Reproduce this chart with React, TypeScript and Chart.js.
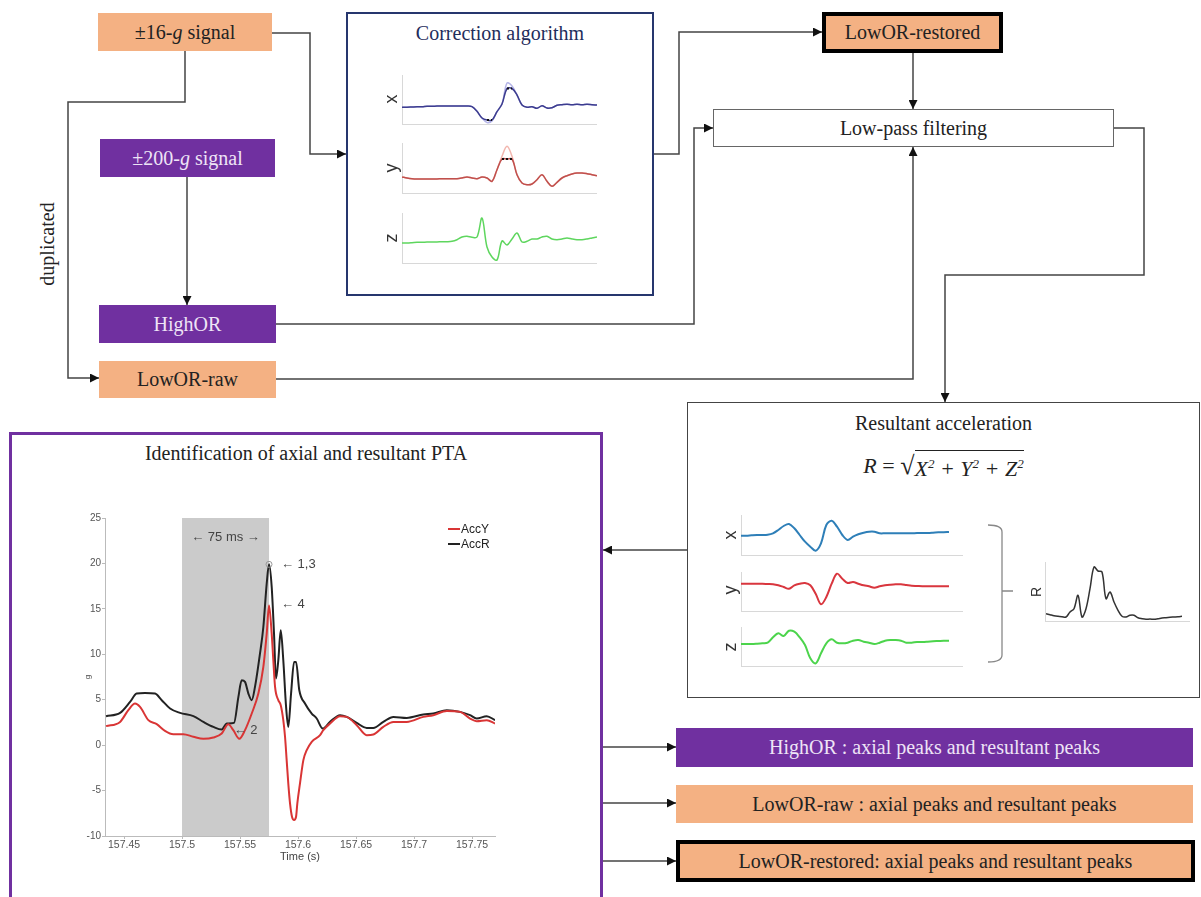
import React, { useEffect, useRef } from 'react';
import { Chart, registerables } from 'chart.js';
Chart.register(...registerables);

const SERIF = "'Liberation Serif', 'Times New Roman', serif";
const SANS = "'Liberation Sans', Arial, sans-serif";
const PEACH = '#F4B183';
const PURPLE = '#7030A0';

// ---------- main chart data (Identification of axial and resultant PTA) ----------
const accYTime = [157.4345, 157.4466, 157.4537, 157.4595, 157.4638, 157.4710, 157.4782, 157.4853, 157.4925, 157.5011, 157.5098, 157.5184, 157.5270, 157.5342, 157.5399, 157.5442, 157.5494, 157.5543, 157.5601, 157.5658, 157.5701, 157.5730, 157.5750, 157.5773, 157.5787, 157.5802, 157.5830, 157.5851, 157.5873, 157.5888, 157.5902, 157.5916, 157.5931, 157.5948, 157.5966, 157.5983, 157.5994, 157.6017, 157.6046, 157.6075, 157.6118, 157.6190, 157.6218, 157.6276, 157.6362, 157.6420, 157.6506, 157.6592, 157.6649, 157.6735, 157.6822, 157.6937, 157.7080, 157.7166, 157.7282, 157.7397, 157.7483, 157.7540, 157.7627, 157.7698];
const accY = [2.09, 2.56, 3.85, 4.58, 4.21, 2.75, 2.31, 1.58, 1.21, 1.21, 0.92, 0.70, 0.84, 1.28, 2.31, 1.65, 0.70, 1.65, 3.48, 5.68, 8.61, 12.27, 15.38, 12.27, 9.34, 6.41, 4.95, 4.40, 2.75, 0.92, -1.65, -4.21, -6.41, -7.88, -8.24, -7.88, -6.41, -4.21, -1.65, -0.55, 0.37, 1.10, 1.65, 2.38, 3.19, 3.11, 2.20, 1.10, 1.17, 2.01, 2.56, 2.56, 3.11, 3.30, 3.77, 3.66, 2.93, 2.64, 2.75, 2.38];
const accRTime = [157.4345, 157.4466, 157.4552, 157.4609, 157.4681, 157.4767, 157.4825, 157.4897, 157.4983, 157.5098, 157.5184, 157.5270, 157.5342, 157.5385, 157.5448, 157.5486, 157.5514, 157.5543, 157.5572, 157.5601, 157.5629, 157.5672, 157.5701, 157.5730, 157.5750, 157.5773, 157.5793, 157.5810, 157.5830, 157.5851, 157.5873, 157.5897, 157.5916, 157.5940, 157.5966, 157.5983, 157.6011, 157.6060, 157.6118, 157.6161, 157.6213, 157.6276, 157.6362, 157.6420, 157.6506, 157.6592, 157.6649, 157.6735, 157.6822, 157.6937, 157.7080, 157.7166, 157.7282, 157.7397, 157.7483, 157.7540, 157.7627, 157.7698];
const accR = [3.19, 3.55, 4.76, 5.68, 5.75, 5.68, 4.95, 4.03, 3.55, 3.19, 2.56, 2.01, 1.72, 2.38, 2.45, 5.31, 7.14, 6.96, 5.68, 4.95, 6.41, 10.07, 13.0, 17.77, 19.9, 17.4, 12.27, 7.33, 9.34, 12.64, 9.34, 4.21, 2.01, 5.68, 9.16, 9.16, 6.04, 4.58, 3.48, 2.93, 1.83, 2.56, 3.30, 3.11, 2.45, 1.90, 1.90, 2.56, 3.11, 3.00, 3.37, 3.48, 3.85, 3.66, 3.30, 2.93, 3.19, 2.75];
const seriesLabels = ['AccY', 'AccR'];
const seriesColors = ['#d93535', '#222222'];
const xRange = [157.4336, 157.7698];
const xTicks = [157.45, 157.5, 157.55, 157.6, 157.65, 157.7, 157.75];
const xTickLabels = ['157.45', '157.5', '157.55', '157.6', '157.65', '157.7', '157.75'];
const yTicks = [-10, -5, 0, 5, 10, 15, 20, 25];
const bandRange = [157.5, 157.575];
const peakPoint = [157.575, 19.9];
const annoLabels = ['\u2190 75 ms \u2192', '\u2190 1,3', '\u2190 4', '\u2190 2'];
const annoTime = [157.5375, 157.5853, 157.5853, 157.5445];
const annoValue = [22.9, 19.9, 15.5, 1.6];
const annoAlign = ['center', 'left', 'left', 'left'];

// ---------- sparkline data (correction algorithm) ----------
const corrXRestored = [16.7, 16.7, 17, 17.3, 17.3, 17.7, 17.7, 18, 18, 18, 18, 18, 18, 18, 17.3, 12.7, 6, 1.5, 3, 12.3, 20, 41, 38, 29, 19, 16.7, 17.3, 15.7, 18.3, 16, 16.3, 18.7, 19.3, 19.7, 19.3, 19.7, 19.3, 19.7, 19.3, 19];
const corrXRaw = [16.7, 16.7, 17, 17.3, 17.3, 17.7, 17.7, 18, 18, 18, 18, 18, 18, 18, 17.3, 12.7, 6, 4, 4, 12.3, 20, 35.5, 35.5, 29, 19, 16.7, 17.3, 15.7, 18.3, 16, 16.3, 18.7, 19.3, 19.7, 19.3, 19.7, 19.3, 19.7, 19.3, 19];
const corrXClip = [null, null, null, null, null, null, null, null, null, null, null, null, null, null, null, null, null, 4, 4, null, null, 35.5, 35.5, null, null, null, null, null, null, null, null, null, null, null, null, null, null, null, null, null];
const corrYRestored = [16, 15, 14.3, 14, 14, 14, 14, 14, 14.3, 14.3, 14.3, 14.3, 15, 16, 15, 14.3, 16, 15, 11.7, 23.3, 36.7, 46.7, 36.7, 18.3, 10, 8.3, 9, 13.3, 18.3, 11.7, 6.7, 10.7, 15, 17.3, 19, 20, 20, 19.3, 18.3, 17.3];
const corrYRaw = [16, 15, 14.3, 14, 14, 14, 14, 14, 14.3, 14.3, 14.3, 14.3, 15, 16, 15, 14.3, 16, 15, 11.7, 23.3, 34, 34, 34, 18.3, 10, 8.3, 9, 13.3, 18.3, 11.7, 6.7, 10.7, 15, 17.3, 19, 20, 20, 19.3, 18.3, 17.3];
const corrYClip = [null, null, null, null, null, null, null, null, null, null, null, null, null, null, null, null, null, null, null, null, 34, 34, 34, null, null, null, null, null, null, null, null, null, null, null, null, null, null, null, null, null];
const corrZ = [20, 20, 20.3, 20.7, 20.7, 21, 21, 21, 21.3, 21.3, 21.7, 23.3, 26, 26.7, 25.7, 26, 45, 16, 6, 3, 22, 18, 24, 30, 21, 21.7, 24, 24, 26, 26.7, 24, 23.3, 24, 25, 24, 23.3, 23.3, 24, 25, 26];

// ---------- sparkline data (resultant acceleration) ----------
const resX = [19.3, 19.3, 19.7, 20, 20, 20.3, 21.7, 25, 29, 31, 26.7, 20, 13.3, 8.3, 4.3, 11.7, 30, 34.3, 28.3, 20, 15, 18.3, 20.7, 22.3, 23.3, 23.3, 21.7, 21.7, 21.7, 21.7, 21.7, 21.7, 21.7, 22, 22, 22, 22.3, 22.7, 22.7, 23];
const resY = [27.3, 27.3, 27.3, 27.3, 27.3, 27, 26.7, 25.7, 24, 22.3, 25.7, 27.3, 28, 25.7, 17.3, 6.7, 14, 27.3, 37.3, 32.3, 28, 29, 27.3, 25.7, 24.7, 23.3, 24.7, 25.7, 26.3, 26.7, 26.7, 26, 25.3, 25, 24.7, 24.7, 24.7, 24.7, 24.7, 24.7];
const resZ = [22, 22, 22, 22.3, 22.7, 23.3, 28.7, 32.7, 30, 35.3, 34.3, 28.7, 21, 7.7, 2.7, 12.7, 22.7, 26.7, 23.3, 22.7, 23.3, 25.3, 26, 24.3, 23.3, 22, 23.3, 25.3, 26, 26, 25.3, 23.3, 23.3, 24, 24, 24.3, 24.7, 25, 25.3, 25.3];
const resR = [7.3, 6.3, 5.3, 4.7, 4.3, 4, 9, 12.3, 25.7, 4, 12.3, 32.3, 54, 50, 49, 22.3, 29, 19, 10.7, 4.7, 4, 5.7, 5.7, 3.3, 2.3, 1.7, 2, 1.7, 2.3, 3, 3.3, 3.7, 4, 4.3, 4.7];

type Series = { data: (number | null)[]; color: string; width?: number; dash?: number[] };

function MiniLine(props: { left: number; top: number; width: number; height: number; yMax: number; series: Series[] }) {
  const ref = useRef<HTMLCanvasElement | null>(null);
  useEffect(() => {
    const labels = props.series[0].data.map((_, i) => i);
    const chart = new Chart(ref.current as HTMLCanvasElement, {
      type: 'line',
      data: {
        labels,
        datasets: props.series.map((s) => ({
          data: s.data,
          borderColor: s.color,
          borderWidth: s.width ?? 1.5,
          borderDash: s.dash ?? [],
          pointRadius: 0,
          tension: 0.35,
          fill: false,
          spanGaps: false,
        })),
      },
      options: {
        animation: false,
        responsive: false,
        events: [],
        layout: { padding: 0 },
        clip: false as any,
        plugins: { legend: { display: false }, tooltip: { enabled: false } },
        scales: {
          x: { display: false, offset: false },
          y: { display: false, min: 0, max: props.yMax },
        },
      },
    });
    return () => chart.destroy();
  }, []);
  return (
    <canvas
      ref={ref}
      width={props.width}
      height={props.height}
      style={{ position: 'absolute', left: props.left, top: props.top, width: props.width, height: props.height }}
    />
  );
}

const decoPlugin = {
  id: 'deco',
  beforeDatasetsDraw(chart: any) {
    const { ctx, chartArea, scales } = chart;
    const x0 = scales.x.getPixelForValue(bandRange[0]);
    const x1 = scales.x.getPixelForValue(bandRange[1]);
    ctx.save();
    ctx.fillStyle = '#cbcbcb';
    ctx.fillRect(x0, chartArea.top, x1 - x0, chartArea.bottom - chartArea.top);
    ctx.restore();
  },
  afterDatasetsDraw(chart: any) {
    const { ctx, chartArea, scales } = chart;
    ctx.save();
    // peak marker
    ctx.strokeStyle = '#999';
    ctx.lineWidth = 1;
    ctx.beginPath();
    ctx.arc(scales.x.getPixelForValue(peakPoint[0]), scales.y.getPixelForValue(peakPoint[1]), 3, 0, Math.PI * 2);
    ctx.stroke();
    // annotations
    ctx.fillStyle = '#444';
    ctx.font = `13px ${SANS}`;
    ctx.textBaseline = 'middle';
    annoLabels.forEach((txt, i) => {
      ctx.textAlign = annoAlign[i];
      ctx.fillText(txt, scales.x.getPixelForValue(annoTime[i]), scales.y.getPixelForValue(annoValue[i]));
    });
    // legend
    ctx.font = `12px ${SANS}`;
    ctx.textAlign = 'left';
    chart.data.datasets.forEach((ds: any, i: number) => {
      const yy = chartArea.top + 11 + i * 15;
      ctx.strokeStyle = ds.borderColor;
      ctx.lineWidth = 2;
      ctx.beginPath();
      ctx.moveTo(chartArea.right - 47, yy);
      ctx.lineTo(chartArea.right - 35, yy);
      ctx.stroke();
      ctx.fillStyle = '#222';
      ctx.fillText(ds.label, chartArea.right - 34, yy + 1);
    });
    // axis titles
    ctx.fillStyle = '#444';
    ctx.font = `11px ${SANS}`;
    ctx.textAlign = 'center';
    ctx.fillText('Time (s)', (chartArea.left + chartArea.right) / 2, chartArea.bottom + 21);
    ctx.translate(chartArea.left - 17, scales.y.getPixelForValue(7.5));
    ctx.rotate(-Math.PI / 2);
    ctx.font = `8px ${SANS}`;
    ctx.fillText('g', 0, 0);
    ctx.restore();
  },
};

function MainChart() {
  const ref = useRef<HTMLCanvasElement | null>(null);
  useEffect(() => {
    const chart = new Chart(ref.current as HTMLCanvasElement, {
      type: 'line',
      data: {
        datasets: [
          {
            label: seriesLabels[0],
            data: accYTime.map((t, i) => ({ x: t, y: accY[i] })),
            borderColor: seriesColors[0],
            borderWidth: 2,
            pointRadius: 0,
            cubicInterpolationMode: 'monotone',
          },
          {
            label: seriesLabels[1],
            data: accRTime.map((t, i) => ({ x: t, y: accR[i] })),
            borderColor: seriesColors[1],
            borderWidth: 2,
            pointRadius: 0,
            cubicInterpolationMode: 'monotone',
          },
        ],
      },
      options: {
        animation: false,
        responsive: false,
        events: [],
        layout: { padding: { top: 10, right: 15, left: 0, bottom: 0 } },
        plugins: { legend: { display: false }, tooltip: { enabled: false } },
        scales: {
          x: {
            type: 'linear',
            min: xRange[0],
            max: xRange[1],
            afterBuildTicks: (s: any) => { s.ticks = xTicks.map((v) => ({ value: v })); },
            afterFit: (s: any) => { s.height = 32; },
            ticks: {
              autoSkip: false,
              maxRotation: 0,
              padding: 0,
              color: '#555',
              font: { family: SANS, size: 10.5 },
              callback: (_v: any, i: number) => xTickLabels[i],
            },
            grid: { display: true, drawOnChartArea: false, tickLength: 3, color: '#bbb' },
            border: { color: '#bbb' },
          },
          y: {
            type: 'linear',
            min: yTicks[0],
            max: yTicks[yTicks.length - 1],
            afterBuildTicks: (s: any) => { s.ticks = yTicks.map((v) => ({ value: v })); },
            afterFit: (s: any) => { s.width = 35; },
            ticks: { padding: 1, color: '#555', font: { family: SANS, size: 10 } },
            grid: { display: true, drawOnChartArea: false, tickLength: 3, color: '#bbb' },
            border: { color: '#bbb' },
          },
        },
      },
      plugins: [decoPlugin],
    });
    return () => chart.destroy();
  }, []);
  return (
    <canvas ref={ref} width={440} height={360} style={{ position: 'absolute', left: 70, top: 508, width: 440, height: 360 }} />
  );
}

function Box(props: { l: number; t: number; w: number; h: number; bg?: string; color?: string; border?: string; children?: any; size?: number }) {
  return (
    <div
      style={{
        position: 'absolute', left: props.l, top: props.t, width: props.w, height: props.h,
        background: props.bg ?? 'transparent', color: props.color ?? '#222', border: props.border ?? 'none',
        boxSizing: 'border-box', display: 'flex', alignItems: 'center', justifyContent: 'center',
        fontFamily: SERIF, fontSize: props.size ?? 20, whiteSpace: 'nowrap',
      }}
    >
      {props.children}
    </div>
  );
}

function AxisFrame(props: { l: number; t: number; w: number; h: number }) {
  return (
    <div style={{ position: 'absolute', left: props.l, top: props.t, width: props.w, height: props.h, borderLeft: '1px solid #d8d8d8', borderBottom: '1px solid #d8d8d8', boxSizing: 'border-box' }} />
  );
}

function RotLabel(props: { x: number; y: number; text: string; size?: number }) {
  return (
    <div style={{ position: 'absolute', left: props.x - 20, top: props.y - 12, width: 40, height: 24, display: 'flex', alignItems: 'center', justifyContent: 'center', transform: 'rotate(-90deg)', fontFamily: SANS, fontSize: props.size ?? 18, color: '#333' }}>
      {props.text}
    </div>
  );
}

const lines: number[][] = [
  [272, 33, 310, 33, 310, 154, 346, 154],
  [185, 51, 185, 102, 68, 102, 68, 378, 99, 378],
  [187, 177, 187, 305],
  [653, 154, 679, 154, 679, 32, 822, 32],
  [913, 53, 913, 109],
  [276, 324, 694, 324, 694, 128, 713, 128],
  [276, 379, 913, 379, 913, 147],
  [1114, 128, 1144, 128, 1144, 275, 945, 275, 945, 402],
  [687, 550, 603, 550],
  [603, 747, 676, 747],
  [603, 803, 676, 803],
  [603, 861, 676, 861],
];

export default function App() {
  const purpleText = '#EEE4F6';
  return (
    <div style={{ position: 'absolute', left: 0, top: 0, width: 1201, height: 897, overflow: 'hidden', background: '#fff', fontFamily: SERIF }}>
      <svg width={1201} height={897} style={{ position: 'absolute', left: 0, top: 0 }}>
        <defs>
          <marker id="ah" markerWidth="9" markerHeight="9" refX="9" refY="4.5" orient="auto" markerUnits="userSpaceOnUse">
            <path d="M0,0 L9,4.5 L0,9 z" fill="#111" />
          </marker>
        </defs>
        {lines.map((p, i) => (
          <polyline key={i} points={p.join(',')} fill="none" stroke="#444" strokeWidth={1.5} markerEnd="url(#ah)" />
        ))}
        <path d="M988,525 Q1002,525 1002,532 L1002,655 Q1002,662 988,662 M1002,591 L1013,591" fill="none" stroke="#888" strokeWidth={1.3} />
      </svg>

      <Box l={98} t={13} w={174} h={38} bg={PEACH}>{'\u00B1'}16-<i>g</i>&nbsp;signal</Box>
      <Box l={100} t={139} w={175} h={38} bg={PURPLE} color={purpleText}>{'\u00B1'}200-<i>g</i>&nbsp;signal</Box>
      <Box l={99} t={305} w={177} h={38} bg={PURPLE} color={purpleText}>HighOR</Box>
      <Box l={99} t={361} w={177} h={37} bg={PEACH}>LowOR-raw</Box>
      <div style={{ position: 'absolute', left: 47 - 60, top: 244 - 12, width: 120, height: 24, display: 'flex', alignItems: 'center', justifyContent: 'center', transform: 'rotate(-90deg)', fontSize: 20, color: '#222' }}>duplicated</div>

      <div style={{ position: 'absolute', left: 346, top: 12, width: 308, height: 284, border: '2px solid #26366E', boxSizing: 'border-box' }} />
      <Box l={346} t={18} w={308} h={30} color="#1F2D5C">Correction algorithm</Box>
      <AxisFrame l={402} t={75} w={195} h={50} />
      <AxisFrame l={402} t={143} w={195} h={51} />
      <AxisFrame l={402} t={213} w={195} h={51} />
      <MiniLine left={402} top={75} width={195} height={49} yMax={49} series={[{ data: corrXClip, color: '#111', width: 2, dash: [2, 2] }, { data: corrXRaw, color: '#3D3D8F' }, { data: corrXRestored, color: '#B5B5E8' }]} />
      <MiniLine left={402} top={143} width={195} height={50} yMax={50} series={[{ data: corrYClip, color: '#111', width: 2, dash: [2, 2] }, { data: corrYRaw, color: '#C0504D' }, { data: corrYRestored, color: '#F2B6AE' }]} />
      <MiniLine left={402} top={213} width={195} height={50} yMax={50} series={[{ data: corrZ, color: '#5ED65E' }]} />
      <RotLabel x={391} y={99} text="x" />
      <RotLabel x={391} y={168} text="y" />
      <RotLabel x={391} y={238} text="z" />

      <Box l={822} t={12} w={181} h={41} bg={PEACH} border="4px solid #000">LowOR-restored</Box>
      <Box l={713} t={109} w={401} h={38} bg="#fff" border="1.5px solid #666">Low-pass filtering</Box>

      <div style={{ position: 'absolute', left: 687, top: 402, width: 513, height: 296, border: '1.5px solid #444', boxSizing: 'border-box' }} />
      <Box l={687} t={408} w={513} h={30}>Resultant acceleration</Box>
      <Box l={687} t={450} w={513} h={32} size={22}>
        <span style={{ fontStyle: 'italic' }}>R</span>&nbsp;=&nbsp;<span style={{ fontSize: 26 }}>{'\u221A'}</span>
        <span style={{ borderTop: '1.5px solid #222', fontStyle: 'italic', paddingTop: 1, lineHeight: '24px' }}>
          X<sup style={{ fontSize: 13 }}>2</sup> + Y<sup style={{ fontSize: 13 }}>2</sup> + Z<sup style={{ fontSize: 13 }}>2</sup>
        </span>
      </Box>
      <AxisFrame l={741} t={515} w={222} h={41} />
      <AxisFrame l={741} t={572} w={222} h={40} />
      <AxisFrame l={741} t={627} w={222} h={40} />
      <AxisFrame l={1045} t={562} w={145} h={60} />
      <MiniLine left={741} top={515} width={208} height={40} yMax={40} series={[{ data: resX, color: '#2E7FB8', width: 2 }]} />
      <MiniLine left={741} top={572} width={208} height={39} yMax={39} series={[{ data: resY, color: '#D9363E', width: 2 }]} />
      <MiniLine left={741} top={627} width={208} height={39} yMax={39} series={[{ data: resZ, color: '#4CD44C', width: 2 }]} />
      <MiniLine left={1046} top={562} width={136} height={59} yMax={59} series={[{ data: resR, color: '#333', width: 1.5 }]} />
      <RotLabel x={730} y={535} text="x" />
      <RotLabel x={730} y={590} text="y" />
      <RotLabel x={730} y={647} text="z" />
      <RotLabel x={1036} y={592} text="R" size={14} />

      <div style={{ position: 'absolute', left: 9, top: 432, width: 594, height: 475, border: '3px solid ' + PURPLE, boxSizing: 'border-box' }} />
      <Box l={9} t={438} w={594} h={30}>Identification of axial and resultant PTA</Box>
      <MainChart />

      <Box l={676} t={728} w={517} h={39} bg={PURPLE} color={purpleText}>HighOR : axial peaks and resultant peaks</Box>
      <Box l={676} t={785} w={517} h={38} bg={PEACH}>LowOR-raw : axial peaks and resultant peaks</Box>
      <Box l={676} t={840} w={519} h={42} bg={PEACH} border="4px solid #000">LowOR-restored: axial peaks and resultant peaks</Box>
    </div>
  );
}
